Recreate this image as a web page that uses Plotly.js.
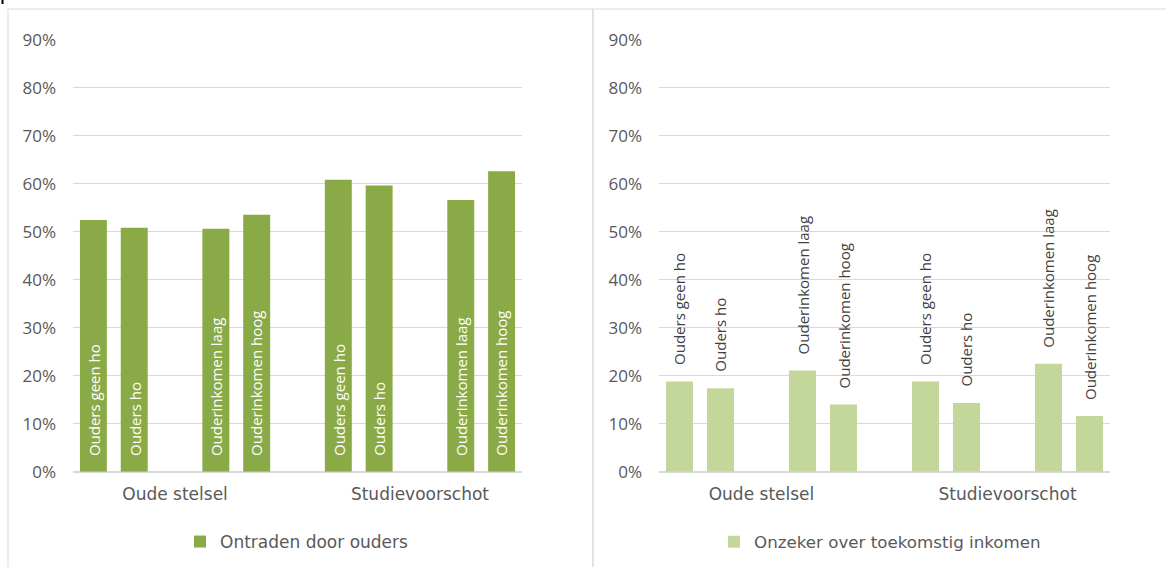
<!DOCTYPE html>
<html><head><meta charset="utf-8">
<script src="https://cdn.plot.ly/plotly-3.0.1.min.js"></script>
<style>html,body{margin:0;padding:0;background:#fff}#chart{width:1166px;height:567px}</style>
</head><body><div id="chart"></div>
<script>
const barLabels = ["Ouders geen ho","Ouders ho","Ouderinkomen laag","Ouderinkomen hoog"];
const groups = ["Oude stelsel","Studievoorschot"];
const ontradenOude = [0.524, 0.508, 0.506, 0.535];
const ontradenStudie = [0.608, 0.596, 0.566, 0.626];
const onzekerOude = [0.188, 0.174, 0.211, 0.140];
const onzekerStudie = [0.188, 0.143, 0.225, 0.116];
const yTicks = [0,0.1,0.2,0.3,0.4,0.5,0.6,0.7,0.8,0.9];
const yTickText = ["0%","10%","20%","30%","40%","50%","60%","70%","80%","90%"];

// slot layout: two bars, gap, two bars per group; one empty slot between groups
const slotInGroup = [0,1,3,4];
const groupStart = [0,6];
function xs(){ const r=[]; groupStart.forEach(g=>slotInGroup.forEach(s=>r.push(g+s))); return r; }
const xPos = xs();
const groupCenter = groupStart.map(g=>g+2);
const labels = barLabels.concat(barLabels);
const yLeft = ontradenOude.concat(ontradenStudie);
const yRight = onzekerOude.concat(onzekerStudie);

const dark = "#8aaa47", light = "#c4d79b";
const W=1166,H=567;
function fontCat(s){ return {family:"DejaVu Sans", size:s||17, color:"#595959"}; }
const fontLab = {family:"Open Sans, sans-serif", size:15};

const traces = [
 {type:"bar", x:xPos, y:yLeft, name:"Ontraden door ouders",
  marker:{color:dark}, width:0.66, xaxis:"x", yaxis:"y", legend:"legend", hoverinfo:"none"},
 {type:"bar", x:xPos, y:yRight, name:"Onzeker over toekomstig inkomen",
  marker:{color:light}, width:0.66, xaxis:"x2", yaxis:"y2", legend:"legend2", hoverinfo:"none"}
];

const annotations = [];
xPos.forEach((x,i)=>{
  annotations.push({xref:"x", yref:"y", x:x, y:0, text:labels[i], showarrow:false, textangle:-90,
    xanchor:"center", yanchor:"bottom", yshift:14, font:Object.assign({color:"#ffffff"}, fontLab)});
  annotations.push({xref:"x2", yref:"y2", x:x, y:yRight[i], text:labels[i], showarrow:false, textangle:-90,
    xanchor:"center", yanchor:"bottom", yshift:14, font:Object.assign({color:"#404040"}, fontLab)});
});

function yAxis(anchor){ return {range:[0,0.9], tickmode:"array", tickvals:yTicks, ticktext:yTickText, showgrid:true, gridcolor:"#d9d9d9", gridwidth:1.3,
  zeroline:true, zerolinecolor:"#d9d9d9", zerolinewidth:1.6, showline:false, ticks:"",
  tickfont:{family:"Open Sans", size:17, color:"#595959"},
  ticklabelstandoff:16, domain:[1-471.7/H, 1-39.6/H], fixedrange:true, anchor:anchor, automargin:false}; }
function xAxis(d, anchor){ return {range:[-0.5,10.5], tickmode:"array", tickvals:groupCenter, ticktext:groups, showgrid:false, zeroline:false,
  showline:false, ticks:"", tickfont:fontCat(), ticklabelstandoff:10, fixedrange:true, domain:d, anchor:anchor, automargin:false}; }

const layout = {
  width:W, height:H, margin:{l:0,r:0,t:0,b:0}, paper_bgcolor:"#fff", plot_bgcolor:"rgba(0,0,0,0)",
  font:{family:"Open Sans", size:17, color:"#595959"},
  showlegend:true, barmode:"group", annotations:annotations,
  xaxis:xAxis([73/W, 522/W], "y"),
  yaxis:yAxis("x"),
  xaxis2:xAxis([659/W, 1110/W], "y2"),
  yaxis2:yAxis("x2"),
  legend:{x:180/W, y:1-542/H, xanchor:"left", yanchor:"middle", orientation:"h", font:fontCat(17), bgcolor:"rgba(0,0,0,0)", itemwidth:30},
  legend2:{x:714/W, y:1-542/H, xanchor:"left", yanchor:"middle", orientation:"h", font:fontCat(16.7), bgcolor:"rgba(0,0,0,0)", itemwidth:30},
  shapes:[
    {type:"rect", xref:"paper", yref:"paper", x0:8/W, x1:593/W, y0:-0.05, y1:1-9/H, line:{color:"#d9d9d9", width:1}},
    {type:"rect", xref:"paper", yref:"paper", x0:593/W, x1:1.05, y0:-0.05, y1:1-9/H, line:{color:"#d9d9d9", width:1}},
    {type:"line", xref:"paper", yref:"paper", x0:2.5/W, x1:2.5/W, y0:1, y1:1-4/H, line:{color:"#000", width:2}}
  ]
};
Plotly.newPlot("chart", traces, layout, {staticPlot:true, displayModeBar:false});
</script></body></html>
